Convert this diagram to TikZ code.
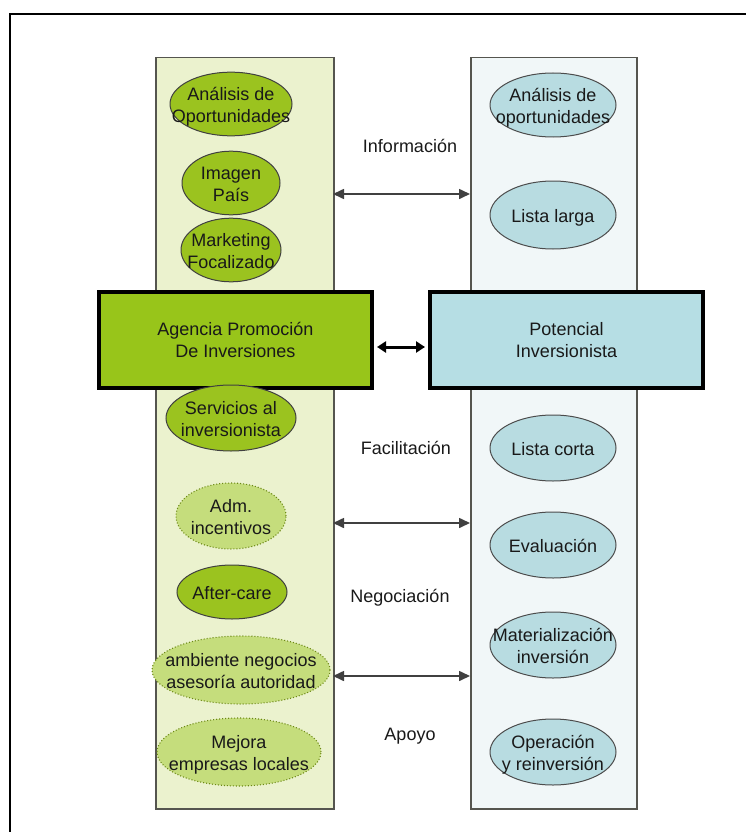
\documentclass[tikz,border=0pt]{standalone}
\usepackage{fontspec}
\setmainfont{Liberation Sans}
\usetikzlibrary{shapes.geometric,arrows.meta}
\definecolor{colgreen}{HTML}{EBF2CE}
\definecolor{colblue}{HTML}{F1F7F8}
\definecolor{ovgreen}{HTML}{9BC31F}
\definecolor{ovlight}{HTML}{C5DD7C}
\definecolor{ovblue}{HTML}{B8DCE1}
\definecolor{boxgreen}{HTML}{98C51A}
\definecolor{boxblue}{HTML}{B6DEE4}
\definecolor{edgegray}{HTML}{55554F}
% text of an oval: centred lines that do not widen the shape, set a little low
\newcommand\ovtext[1]{\makebox[0pt]{\raisebox{-3pt}[\height][\depth]{\begin{tabular}{@{}c@{}}#1\end{tabular}}}}
\tikzset{
  txt/.style={font=\fontsize{18}{22.5}\selectfont, text=black!90, align=center},
  column/.style={draw=edgegray, line width=1.5pt},
  oval/.style={ellipse, font=\fontsize{18}{22.5}\selectfont, text=black!90, inner sep=0pt, line width=1pt},
  gsolid/.style={oval, draw=black!75, fill=ovgreen},
  gdotted/.style={oval, draw=ovgreen!70!black, dotted, line width=1.1pt, fill=ovlight},
  bsolid/.style={oval, draw=black!70, fill=ovblue, minimum width=126pt, minimum height=66pt},
  mainbox/.style={draw=black, line width=4pt, txt, minimum width=273pt, minimum height=96pt, inner sep=0pt},
  link/.style={draw=black!75, line width=1.6pt, {Triangle[length=11pt,width=10pt]}-{Triangle[length=11pt,width=10pt]}},
  biglink/.style={draw=black, line width=3pt, {Triangle[length=9pt,width=11pt]}-{Triangle[length=9pt,width=11pt]}},
  lbl/.style={txt}
}
\begin{document}
\begin{tikzpicture}[x=1pt,y=-1pt]
\useasboundingbox (0,0) rectangle (746,832);
% outer frame, open to the right and bottom
\draw[line width=2.2pt] (10,840) -- (10,14) -- (760,14);

% the two columns
\node[column, fill=colgreen, minimum width=178pt, minimum height=751pt, inner sep=0pt, anchor=north west] (lcol) at (155,57) {};
\node[column, fill=colblue, minimum width=166pt, minimum height=751pt, inner sep=0pt, anchor=north west] (rcol) at (470,57) {};

% main boxes
\node[mainbox, fill=boxgreen] (apb) at (235.5,340) {Agencia Promoción\\De Inversiones};
\node[mainbox, fill=boxblue] (pi) at (566.5,340) {Potencial\\Inversionista};
\path (apb.east) ++(3,7) coordinate (a1);
\path (pi.west) ++(-3,7) coordinate (b1);
\draw[biglink] (a1) -- (b1);

% agency side
\node[gsolid, minimum width=122pt, minimum height=58pt] (g1) at (231,104) {\ovtext{Análisis de\\Oportunidades}};
\node[gsolid, minimum width=98pt, minimum height=54pt] (g2) at (231,183) {\ovtext{Imagen\\País}};
\node[gsolid, minimum width=100pt, minimum height=54pt] (g3) at (231,250) {\ovtext{Marketing\\Focalizado}};
\node[gsolid, minimum width=130pt, minimum height=66pt] (g4) at (231,418) {\ovtext{Servicios al\\inversionista}};
\node[gdotted, minimum width=110pt, minimum height=66pt] (g5) at (231,516) {\ovtext{Adm.\\incentivos}};
\node[gsolid, minimum width=110pt, minimum height=54pt] (g6) at (232,592) {\ovtext{After-care}};
\node[gdotted, minimum width=178pt, minimum height=68pt] (g7) at (241,670) {\ovtext{ambiente negocios\\asesoría autoridad}};
\node[gdotted, minimum width=164pt, minimum height=68pt] (g8) at (239,752) {\ovtext{Mejora\\empresas locales}};

% investor side
\node[bsolid, minimum height=64pt] (b1n) at (553,105) {\ovtext{Análisis de\\oportunidades}};
\node[bsolid, minimum height=68pt] (b2n) at (553,215) {\ovtext{Lista larga}};
\node[bsolid] (b3n) at (553,448) {\ovtext{Lista corta}};
\node[bsolid] (b4n) at (553,545) {\ovtext{Evaluación}};
\node[bsolid] (b5n) at (553,645) {\ovtext{Materialización\\inversión}};
\node[bsolid] (b6n) at (553,752) {\ovtext{Operación\\y reinversión}};

% stage labels
\node[lbl] (l1) at (410,146) {Información};
\node[lbl] (l2) at (406,448) {Facilitación};
\node[lbl] (l3) at (400,598) {Negociación};
\node[lbl] (l4) at (410,736) {Apoyo};

% exchanges between the columns
\coordinate (e1l) at (333,194); \coordinate (e1r) at (470,194);
\coordinate (e2l) at (333,523); \coordinate (e2r) at (470,523);
\coordinate (e3l) at (333,676); \coordinate (e3r) at (470,676);
\draw[link] (e1l) -- (e1r);
\draw[link] (e2l) -- (e2r);
\draw[link] (e3l) -- (e3r);
\end{tikzpicture}
\end{document}
